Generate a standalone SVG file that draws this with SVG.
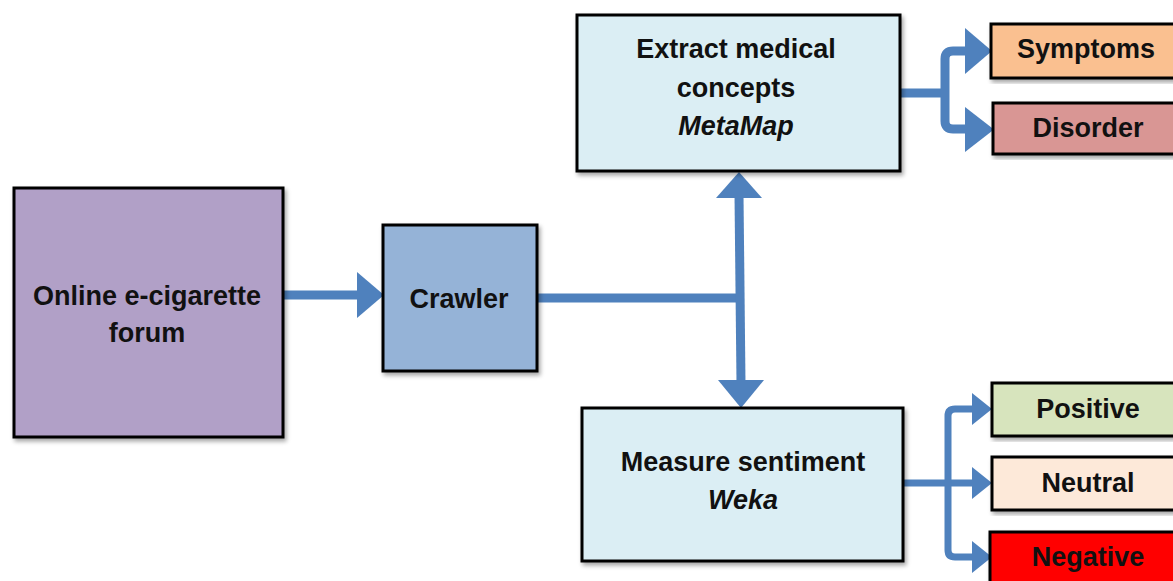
<svg xmlns="http://www.w3.org/2000/svg" width="1173" height="581" viewBox="0 0 1173 581">
<defs>
<filter id="sh" x="-5%" y="-5%" width="115%" height="115%">
<feDropShadow dx="2" dy="3" stdDeviation="2" flood-color="#000" flood-opacity="0.35"/>
</filter>
</defs>
<style>
.box{stroke:#000;stroke-width:3;filter:url(#sh)}
.t{font-family:"Liberation Sans",Arial,sans-serif;font-weight:bold;font-size:27px;fill:#111;text-anchor:middle}
.i{font-style:italic}
.ln{fill:none;stroke:#4F81BD;stroke-width:9}
.ln2{fill:none;stroke:#4F81BD;stroke-width:7}
.ah{fill:#4F81BD}
</style>
<rect width="1173" height="581" fill="#fff"/>
<g id="connectors">
<line class="ln" x1="283" y1="295" x2="360" y2="295"/>
<polygon class="ah" points="357,272 384,295 357,318"/>
<line class="ln" x1="537" y1="298" x2="744" y2="298"/>
<line class="ln" x1="739" y1="195" x2="741" y2="383"/>
<polygon class="ah" points="716,198 739,172 762,198"/>
<polygon class="ah" points="718,380 741,408 764,380"/>
<path class="ln" d="M900,93 H949"/>
<path class="ln" d="M968,51 H953 Q945,51 945,59 V121 Q945,129 953,129 H968"/>
<polygon class="ah" points="965,28 992,51 965,74"/>
<polygon class="ah" points="965,107 994,129.5 965,152"/>
<path class="ln2" d="M903,483 H975"/>
<path class="ln2" d="M975,409 H955 Q948,409 948,416 V550 Q948,557 955,557 H975"/>
<polygon class="ah" points="972,393 992,409 972,425"/>
<polygon class="ah" points="972,467 992,483 972,499"/>
<polygon class="ah" points="972,541 992,557 972,573"/>
</g>
<g id="forum">
<rect class="box" x="14" y="188" width="269" height="249" fill="#B1A0C7"/>
<text class="t" x="147" y="305">Online e-cigarette</text>
<text class="t" x="147" y="342">forum</text>
</g>
<g id="crawler">
<rect class="box" x="383" y="225" width="154" height="146" fill="#95B3D7"/>
<text class="t" x="459" y="308">Crawler</text>
</g>
<g id="extract">
<rect class="box" x="577" y="15" width="323" height="156" fill="#DBEEF4"/>
<text class="t" x="736" y="58">Extract medical</text>
<text class="t" x="736" y="97">concepts</text>
<text class="t i" x="736" y="135">MetaMap</text>
</g>
<g id="measure">
<rect class="box" x="582" y="408" width="321" height="153" fill="#DBEEF4"/>
<text class="t" x="743" y="471">Measure sentiment</text>
<text class="t i" x="743" y="509">Weka</text>
</g>
<g id="symptoms">
<rect class="box" x="991" y="24" width="195" height="54" fill="#FAC090"/>
<text class="t" x="1086" y="58">Symptoms</text>
</g>
<g id="disorder">
<rect class="box" x="993" y="103" width="195" height="51" fill="#D99694"/>
<text class="t" x="1088" y="137">Disorder</text>
</g>
<g id="positive">
<rect class="box" x="992" y="383" width="195" height="53" fill="#D7E4BD"/>
<text class="t" x="1088" y="418">Positive</text>
</g>
<g id="neutral">
<rect class="box" x="992" y="457" width="195" height="53" fill="#FDE9D9"/>
<text class="t" x="1088" y="492">Neutral</text>
</g>
<g id="negative">
<rect class="box" x="990" y="532" width="197" height="60" fill="#FF0000"/>
<text class="t" x="1088" y="566">Negative</text>
</g>
</svg>
